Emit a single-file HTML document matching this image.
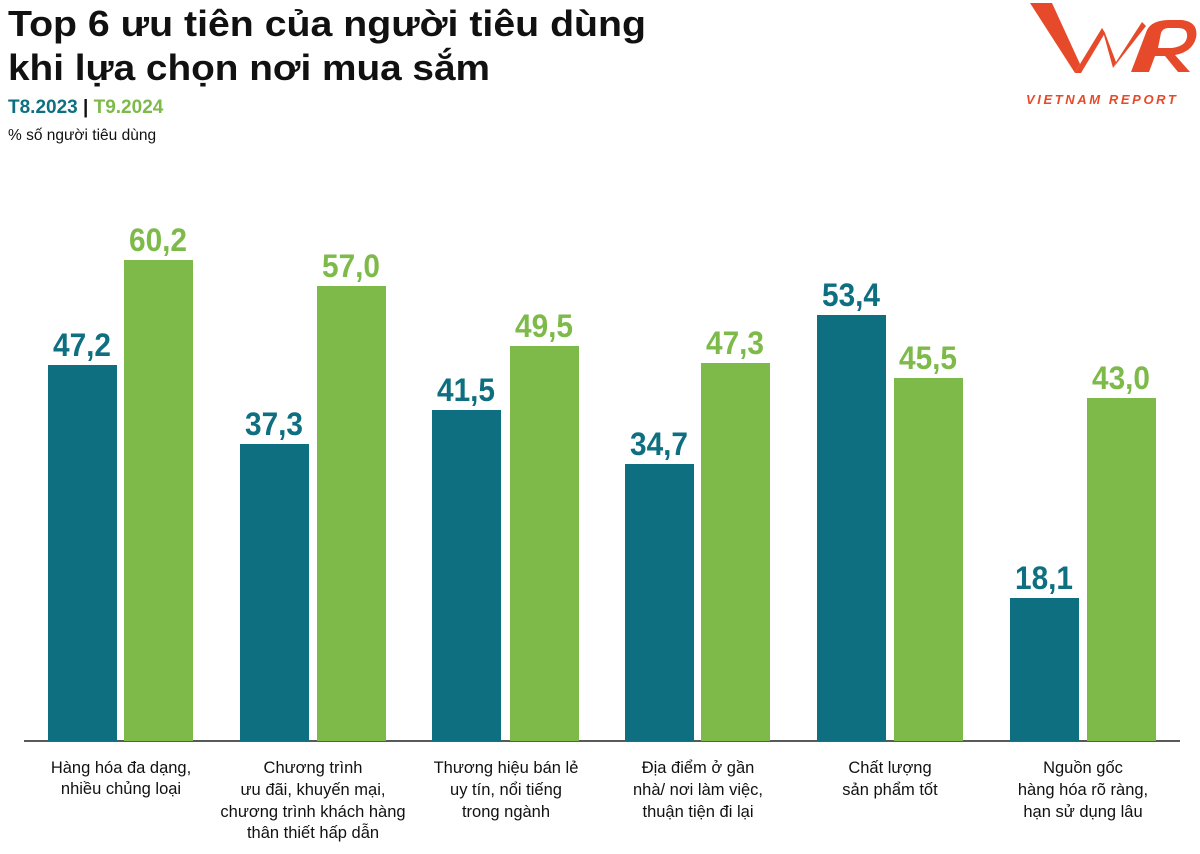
<!DOCTYPE html>
<html><head><meta charset="utf-8"><style>
body{margin:0;background:#fff;width:1200px;height:849px;overflow:hidden}
svg text{font-family:"Liberation Sans","DejaVu Sans",sans-serif}
</style></head><body>
<svg width="1200" height="849" viewBox="0 0 1200 849" xmlns="http://www.w3.org/2000/svg">
<text x="8" y="36" font-size="36" font-weight="bold" fill="#111" textLength="638" lengthAdjust="spacingAndGlyphs">Top 6 ưu tiên của người tiêu dùng</text>
<text x="8" y="80" font-size="36" font-weight="bold" fill="#111" textLength="482" lengthAdjust="spacingAndGlyphs">khi lựa chọn nơi mua sắm</text>
<text x="8" y="113" font-size="19" font-weight="bold"><tspan fill="#0e6f80">T8.2023</tspan><tspan fill="#111"> | </tspan><tspan fill="#7dba4a">T9.2024</tspan></text>
<text x="8" y="140" font-size="15.5" fill="#111">% số người tiêu dùng</text>
<!-- logo -->
<g fill="#e64a2a">
<polygon points="1030,3 1052,3 1080,64 1075,73"/>
<polygon points="1075,73 1080,64 1102,28 1105,33 1081,73"/>
<polygon points="1102,28 1105,33 1116,62 1113,68"/>
<polygon points="1113,68 1116,62 1142,22 1146,26"/>
<path d="M1131,72 L1147,30 Q1152,20 1170,20 L1182,20 Q1199,22 1196,38 Q1192,52 1175,55 L1190,72 L1178,72 L1165,56 L1155,56 L1149,72 Z M1158,48 L1172,48 Q1186,46 1187,37 Q1188,28 1178,28 L1168,28 Q1163,28 1161,33 Z"/>
<text x="1026" y="104" font-size="13" font-weight="bold" font-style="italic" letter-spacing="2.6">VIETNAM REPORT</text>
</g>
<line x1="24" y1="741" x2="1180" y2="741" stroke="#222" stroke-width="1.5"/>
<g fill="#0e6f80">
<rect x="48" y="365" width="69" height="376"/>
<rect x="240" y="444" width="69" height="297"/>
<rect x="432" y="410" width="69" height="331"/>
<rect x="625" y="464" width="69" height="277"/>
<rect x="817" y="315" width="69" height="426"/>
<rect x="1010" y="598" width="69" height="143"/>
</g>
<g fill="#7dba4a">
<rect x="124" y="260" width="69" height="481"/>
<rect x="317" y="286" width="69" height="455"/>
<rect x="510" y="346" width="69" height="395"/>
<rect x="701" y="363" width="69" height="378"/>
<rect x="894" y="378" width="69" height="363"/>
<rect x="1087" y="398" width="69" height="343"/>
</g>
<g font-size="32" font-weight="bold" text-anchor="middle">
<g fill="#0e6f80">
<text x="82" y="356" textLength="58" lengthAdjust="spacingAndGlyphs">47,2</text>
<text x="274" y="435" textLength="58" lengthAdjust="spacingAndGlyphs">37,3</text>
<text x="466" y="401" textLength="58" lengthAdjust="spacingAndGlyphs">41,5</text>
<text x="659" y="455" textLength="58" lengthAdjust="spacingAndGlyphs">34,7</text>
<text x="851" y="306" textLength="58" lengthAdjust="spacingAndGlyphs">53,4</text>
<text x="1044" y="589" textLength="58" lengthAdjust="spacingAndGlyphs">18,1</text>
</g>
<g fill="#7dba4a">
<text x="158" y="251" textLength="58" lengthAdjust="spacingAndGlyphs">60,2</text>
<text x="351" y="277" textLength="58" lengthAdjust="spacingAndGlyphs">57,0</text>
<text x="544" y="337" textLength="58" lengthAdjust="spacingAndGlyphs">49,5</text>
<text x="735" y="354" textLength="58" lengthAdjust="spacingAndGlyphs">47,3</text>
<text x="928" y="369" textLength="58" lengthAdjust="spacingAndGlyphs">45,5</text>
<text x="1121" y="389" textLength="58" lengthAdjust="spacingAndGlyphs">43,0</text>
</g>
</g>
<g font-size="16.5" fill="#111" text-anchor="middle">
<text x="121" y="773">Hàng hóa đa dạng,</text>
<text x="121" y="794">nhiều chủng loại</text>
<text x="313" y="773">Chương trình</text>
<text x="313" y="795">ưu đãi, khuyến mại,</text>
<text x="313" y="817">chương trình khách hàng</text>
<text x="313" y="838">thân thiết hấp dẫn</text>
<text x="506" y="773">Thương hiệu bán lẻ</text>
<text x="506" y="795">uy tín, nổi tiếng</text>
<text x="506" y="817">trong ngành</text>
<text x="698" y="773">Địa điểm ở gần</text>
<text x="698" y="795">nhà/ nơi làm việc,</text>
<text x="698" y="817">thuận tiện đi lại</text>
<text x="890" y="773">Chất lượng</text>
<text x="890" y="795">sản phẩm tốt</text>
<text x="1083" y="773">Nguồn gốc</text>
<text x="1083" y="795">hàng hóa rõ ràng,</text>
<text x="1083" y="817">hạn sử dụng lâu</text>
</g>
</svg>
</body></html>
